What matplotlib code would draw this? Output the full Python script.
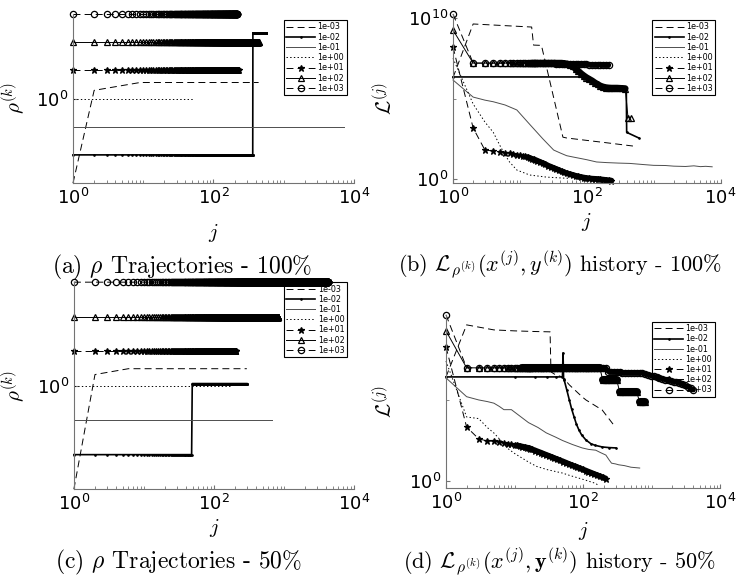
import numpy as np
import matplotlib
matplotlib.use('Agg')
import matplotlib.pyplot as plt
from matplotlib.ticker import FixedLocator, LogLocator, NullFormatter

plt.rcParams['mathtext.fontset'] = 'cm'
plt.rcParams['lines.scale_dashes'] = False

labels = ['1e-03', '1e-02', '1e-01', '1e+00', '1e+01', '1e+02', '1e+03']

J = [1, 2, 3, 4, 5, 6, 7, 8, 9, 10, 11, 12, 13, 14, 15, 16, 17, 18, 20, 22,
     24, 26, 29, 32, 35, 38, 42, 46, 51, 56, 62, 68, 75, 82, 90, 99, 109, 120, 132, 145,
     160, 176, 194, 213, 234, 257, 283, 311, 342, 376, 414, 455, 500, 550, 605, 666, 732, 805, 886, 974,
     1072, 1179, 1297, 1427, 1569, 1726, 1899, 2089, 2298, 2528, 2781, 3059, 3365, 3700, 4070]

# ---- (a) rho trajectories, 100 % ----
a_last = [440, 570, 7200, 53, 228, 440, 220]
a_rho = [3.7, 0.01, 0.1, 1.0, 10.0, 100.0, 1000.0]
a_ramp_j = [1, 2, 9]
a_ramp_rho = [1e-3, 1.95, 3.7]
a_jump = 363
a_jump_rho = 210.0

# ---- (c) rho trajectories, 50 % ----
c_last = [295, 295, 670, 170, 206, 820, 4200]
c_rho = [3.1, 0.01, 0.1, 1.0, 10.0, 100.0, 1000.0]
c_ramp_j = [1, 2, 6]
c_ramp_rho = [1e-3, 2.1, 3.1]
c_jump = 48
c_jump_rho = 1.15

# ---- (b) L history, 100 %  (log10 values) ----
b_x_m3 = [1, 2, 15, 16, 21, 44, 50, 100, 200, 490]
b_log_m3 = [6.3, 9.63, 9.44, 8.32, 8.3, 2.6, 2.55, 2.4, 2.25, 2.05]
b_x_m2 = [1, 85, 100, 120, 145, 173, 250, 363, 390, 395, 600]
b_log_m2 = [6.34, 6.34, 6.3, 6.15, 5.9, 5.72, 5.65, 5.62, 5.6, 2.9, 2.55]
b_x_m1 = [1, 2, 3, 4, 6, 9, 14, 22, 32, 40, 50, 62, 80, 100, 140, 200, 300, 440, 700, 1000,
          1500, 2000, 3000, 4000, 5000, 6000, 7500]
b_log_m1 = [6.15, 5.09, 4.9, 4.8, 4.6, 4.29, 3.4, 2.5, 1.8, 1.62, 1.45, 1.37, 1.28, 1.2, 1.06, 1.02,
            0.99, 0.97, 0.9, 0.85, 0.84, 0.8, 0.78, 0.82, 0.77, 0.79, 0.76]
b_x_p0 = [1, 2, 3, 4, 5, 6, 7, 9, 14, 25, 44, 53]
b_log_p0 = [7.5, 4.66, 3.54, 2.9, 2.1, 1.5, 1.06, 0.56, 0.25, 0.12, 0.06, 0.05]
b_log_p1 = [8.2, 3.17, 1.8, 1.74, 1.68, 1.64, 1.6, 1.56, 1.52, 1.48,
            1.45, 1.41, 1.36, 1.3, 1.26, 1.22, 1.18, 1.14, 1.06, 0.98,
            0.92, 0.84, 0.76, 0.68, 0.62, 0.56, 0.47, 0.41, 0.35, 0.3,
            0.25, 0.2, 0.16, 0.12, 0.09, 0.06, 0.04, 0.02, 0.01, 0.0,
            -0.02, -0.04, -0.06, -0.08, -0.1]
b_log_p2 = ([9.25] + [7.2] * 9 + [7.2] * 10
            + [7.2, 7.2, 7.2, 7.2, 7.2, 7.2, 7.2, 7.18, 7.15, 7.1]
            + [7.0, 6.85, 6.7, 6.55, 6.42, 6.3, 6.2, 6.1, 5.98, 5.88]
            + [5.78, 5.72, 5.68, 5.66, 5.65, 5.65, 5.65, 5.64, 5.63, 5.62]
            + [3.8, 3.8])
b_log_p3 = ([10.25] + [7.2] * 9 + [7.2] * 10
            + [7.19, 7.19, 7.18, 7.18, 7.17, 7.17, 7.16, 7.16, 7.15, 7.15]
            + [7.14, 7.14, 7.13, 7.13, 7.12, 7.12, 7.11, 7.11, 7.1, 7.1]
            + [7.09, 7.09, 7.08, 7.08])
# index ranges of J where the markers merge into a solid band
b_bands = {4: [(12, 45)], 5: [(14, 50)], 6: [(12, 44)]}

# ---- (d) L history, 50 %  (log10 values) ----
d_x_m3 = [1, 2, 5, 10, 20, 33, 34, 40, 50, 63, 97, 110, 190, 295]
d_log_m3 = [6.42, 9.63, 9.32, 9.26, 9.22, 9.2, 6.73, 6.54, 6.42, 5.93, 5.19, 5.0, 4.38, 3.33]
d_x_m2 = [1, 10, 20, 30, 40, 50, 51, 52, 53, 58, 63, 68, 74, 80, 87, 95, 110, 130, 150, 190, 240, 300]
d_log_m2 = [6.42, 6.42, 6.42, 6.42, 6.42, 6.42, 7.9, 6.3, 6.23, 5.6, 5.0, 4.45, 3.95, 3.5, 3.15,
            2.85, 2.53, 2.3, 2.2, 2.1, 2.06, 2.04]
d_x_m1 = [1, 2, 3, 4, 5, 6, 7, 9, 12, 16, 22, 29, 40, 50, 70, 97, 120, 153, 180, 215,
          240, 260, 300, 330, 400, 500, 670]
d_log_m1 = [6.36, 5.2, 5.0, 4.9, 4.8, 4.6, 4.4, 4.4, 4.0, 3.6, 3.3, 2.97, 2.7, 2.5, 2.25, 2.04,
            1.95, 1.9, 1.75, 1.6, 1.3, 1.1, 1.05, 1.0, 0.95, 0.85, 0.8]
d_x_p0 = [1, 2, 3, 4, 5, 6, 8, 10, 16, 21, 30, 50, 63, 100, 153, 170]
d_log_p0 = [7.4, 3.95, 3.85, 3.3, 2.96, 2.6, 2.0, 1.7, 1.17, 0.9, 0.7, 0.49, 0.35, 0.1, -0.15, -0.3]
d_log_p1 = [8.27, 3.33, 2.6, 2.47, 2.45, 2.4, 2.35, 2.3, 2.26, 2.22,
            2.19, 2.15, 2.12, 2.09, 2.06, 2.04, 2.0, 1.95, 1.88, 1.81,
            1.75, 1.69, 1.61, 1.54, 1.47, 1.41, 1.34, 1.27, 1.2, 1.13,
            1.05, 0.98, 0.91, 0.85, 0.78, 0.71, 0.64, 0.57, 0.5, 0.43,
            0.36, 0.29, 0.22, 0.15]
d_log_p2 = ([9.26] + [6.98] * 9 + [6.98] * 30
            + [6.98, 6.98, 6.2, 6.2, 6.2, 6.2, 6.2, 6.2, 5.5, 5.5]
            + [5.5, 5.5, 5.5, 5.5, 5.5, 4.9, 4.9, 4.9])
d_log_p3 = ([10.25] + [6.98] * 9 + [6.98] * 30
            + [6.98, 6.98, 6.98, 6.98, 6.75, 6.73, 6.72, 6.7, 6.7, 6.69]
            + [6.68, 6.68, 6.67, 6.67, 6.67, 6.66, 6.66, 6.6, 6.55, 6.5]
            + [6.45, 6.4, 6.36, 6.3, 6.25, 6.2, 6.17, 6.13, 6.09, 6.05]
            + [5.98, 5.9, 5.82, 5.72, 5.62])
d_bands = {4: [(10, 44)], 5: [(12, 42), (42, 48), (48, 55), (55, 58)], 6: [(12, 75)]}

STYLES = [
    dict(dashes=(5, 3)),
    dict(ls='-', marker='.', ms=2.0, lw=1.2),
    dict(ls='-', color='0.3'),
    dict(ls=':'),
    dict(dashes=(5, 3), marker='*', ms=4.5),
    dict(ls='-', marker='^', ms=5, mfc='none'),
    dict(dashes=(5, 3), marker='o', ms=4.5, mfc='none'),
]
# width of the solid band formed by overlapping markers
BAND_LW = {4: 4.2, 5: 4.8, 6: 3.6}


def draw(ax, x, y, k):
    kw = dict(color='black', lw=0.7, mew=0.9, clip_on=False)
    kw.update(STYLES[k])
    ax.plot(x, y, label=labels[k], **kw)


def rho_panel(ax, last, rho, ramp_j, ramp_rho, jump, jump_rho):
    for k in range(7):
        if k == 0:
            draw(ax, ramp_j + [last[0]], ramp_rho + [rho[0]], 0)
        elif k == 1:
            j = np.arange(1, last[1] + 1)
            draw(ax, j, np.where(j <= jump, rho[1], jump_rho), 1)
        elif k in (2, 3):
            draw(ax, [1, last[k]], [rho[k], rho[k]], k)
        else:
            j = np.arange(1, last[k] + 1)
            draw(ax, j, np.full(len(j), rho[k]), k)


def loss_panel(ax, lines, marked, bands, tri_lw):
    for k, (x, lg) in enumerate(lines):
        draw(ax, x, 10.0 ** np.array(lg), k)
    for k, lg in zip((4, 5, 6), marked):
        y = 10.0 ** np.array(lg)
        draw(ax, J[:len(lg)], y, k)
        lw = tri_lw if k == 5 else BAND_LW[k]
        for i0, i1 in bands[k]:
            ax.plot(J[i0:i1], y[i0:i1], color='black', lw=lw, solid_capstyle='round',
                    clip_on=False, zorder=2.1)


def setup(ax, ylim, yticks, yminor, ylabel, lab_x, leg_xy, xpad):
    ax.set_xscale('log')
    ax.set_yscale('log')
    ax.set_xlim(1, 1e4)
    ax.set_ylim(*ylim)
    ax.xaxis.set_major_locator(FixedLocator([1, 1e2, 1e4]))
    ax.xaxis.set_minor_locator(LogLocator(base=10, subs=np.arange(1, 10), numticks=30))
    ax.xaxis.set_minor_formatter(NullFormatter())
    ax.yaxis.set_major_locator(FixedLocator(yticks))
    ax.yaxis.set_minor_locator(FixedLocator(yminor))
    ax.yaxis.set_minor_formatter(NullFormatter())
    for s in ('top', 'right'):
        ax.spines[s].set_visible(False)
    for s in ('left', 'bottom'):
        ax.spines[s].set_color('0.45')
    ax.tick_params(which='both', direction='in', colors='0.45', labelcolor='black', labelsize=13)
    ax.tick_params(which='major', length=3)
    ax.tick_params(which='minor', length=2)
    ax.set_xlabel('$j$', fontsize=15, labelpad=xpad)
    ax.set_ylabel(ylabel, fontsize=15)
    ax.yaxis.set_label_coords(lab_x, 0.5)
    leg = ax.legend(loc='upper right', bbox_to_anchor=leg_xy, borderaxespad=0, fontsize=5.8,
                    fancybox=False, edgecolor='black', framealpha=1, handlelength=3.6,
                    handletextpad=0.3, labelspacing=0.15, borderpad=0.3, numpoints=1)
    leg.get_frame().set_linewidth(0.8)
    leg.set_zorder(1.5)


fig = plt.figure(figsize=(7.39, 5.83), dpi=100)
ax_a = fig.add_axes([0.0988, 0.686, 0.380, 0.290])
ax_b = fig.add_axes([0.613, 0.686, 0.362, 0.290])
ax_c = fig.add_axes([0.100, 0.161, 0.379, 0.355])
ax_d = fig.add_axes([0.6035, 0.163, 0.371, 0.297])

rho_panel(ax_a, a_last, a_rho, a_ramp_j, a_ramp_rho, a_jump, a_jump_rho)
rho_panel(ax_c, c_last, c_rho, c_ramp_j, c_ramp_rho, c_jump, c_jump_rho)
loss_panel(ax_b, [(b_x_m3, b_log_m3), (b_x_m2, b_log_m2), (b_x_m1, b_log_m1), (b_x_p0, b_log_p0)],
           [b_log_p1, b_log_p2, b_log_p3], b_bands, 4.8)
loss_panel(ax_d, [(d_x_m3, d_log_m3), (d_x_m2, d_log_m2), (d_x_m1, d_log_m1), (d_x_p0, d_log_p0)],
           [d_log_p1, d_log_p2, d_log_p3], d_bands, 5.8)

setup(ax_a, (1e-3, 1e3), [1], [], r'$\rho^{(k)}$', -0.16, (0.975, 0.964), 10)
setup(ax_b, (10 ** -0.25, 10 ** 10.25), [1, 1e10], [1e5], r'$\mathcal{L}^{(j)}$', -0.213,
      (0.98, 0.964), 2)
setup(ax_c, (1e-3, 1e3), [1], [], r'$\rho^{(k)}$', -0.164, (0.975, 1.0), 2)
setup(ax_d, (10 ** -0.43, 10 ** 10.25), [1], [1e5], r'$\mathcal{L}^{(j)}$', -0.183,
      (0.98, 0.96), 5)

cap = dict(ha='center', va='center', family='cmr10')
fig.text(0.246, 0.542, r'(a) $\rho$ Trajectories - 100%', fontsize=17, **cap)
fig.text(0.757, 0.545, r'(b) $\mathcal{L}_{\rho^{(k)}}(x^{(j)}, y^{(k)})$ history - 100%',
         fontsize=16, **cap)
fig.text(0.242, 0.036, r'(c) $\rho$ Trajectories - 50%', fontsize=17, **cap)
fig.text(0.757, 0.036, r'(d) $\mathcal{L}_{\rho^{(k)}}(x^{(j)}, \mathbf{y}^{(k)})$ history - 50%',
         fontsize=16, **cap)

fig.savefig('out.png', dpi=100)
